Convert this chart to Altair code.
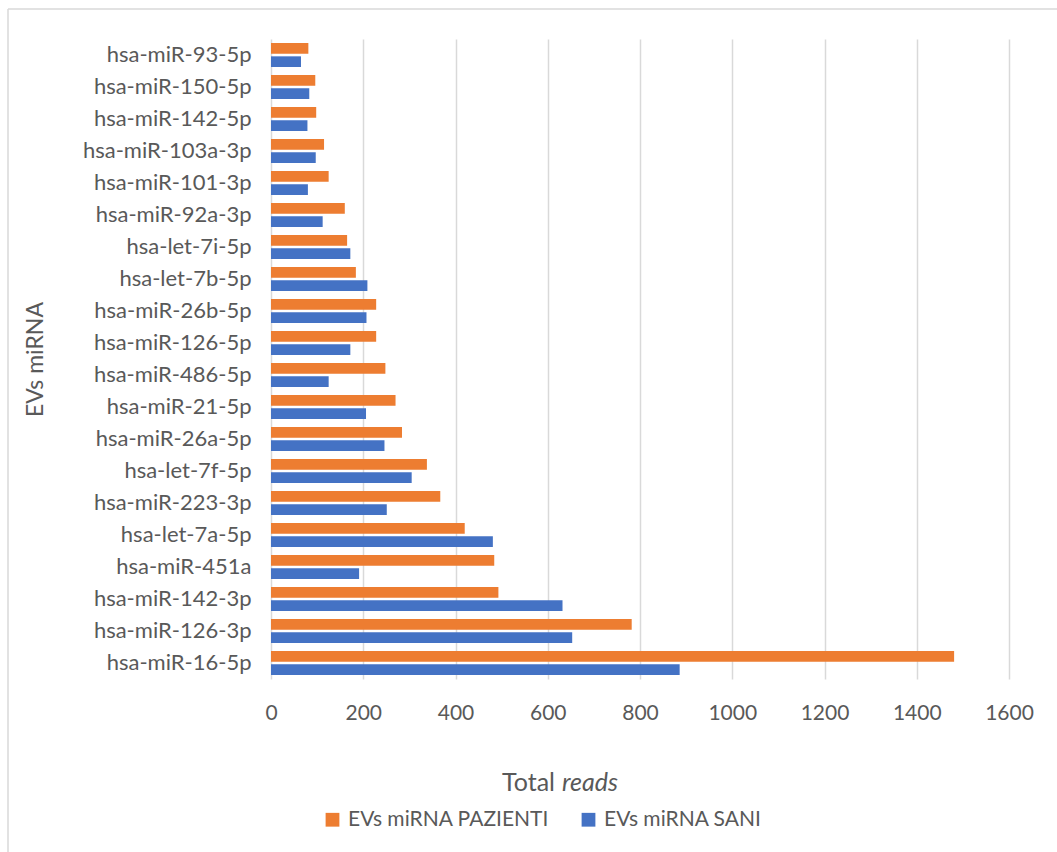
import altair as alt
import pandas as pd

# miRNA names, top to bottom as listed on the axis
mirnas = [
    "hsa-miR-93-5p", "hsa-miR-150-5p", "hsa-miR-142-5p", "hsa-miR-103a-3p",
    "hsa-miR-101-3p", "hsa-miR-92a-3p", "hsa-let-7i-5p", "hsa-let-7b-5p",
    "hsa-miR-26b-5p", "hsa-miR-126-5p", "hsa-miR-486-5p", "hsa-miR-21-5p",
    "hsa-miR-26a-5p", "hsa-let-7f-5p", "hsa-miR-223-3p", "hsa-let-7a-5p",
    "hsa-miR-451a", "hsa-miR-142-3p", "hsa-miR-126-3p", "hsa-miR-16-5p",
]
# total reads per group
pazienti = [81, 96, 98, 115, 125, 160, 165, 184, 228, 228,
            248, 270, 284, 338, 367, 420, 484, 493, 782, 1481]
sani = [65, 83, 79, 97, 80, 112, 172, 209, 207, 172,
        125, 206, 246, 305, 251, 481, 191, 632, 653, 886]

groups = ["EVs miRNA PAZIENTI", "EVs miRNA SANI"]
colors = ["#ED7D31", "#4472C4"]
x_ticks = [0, 200, 400, 600, 800, 1000, 1200, 1400, 1600]

rows = []
for name, p, s in zip(mirnas, pazienti, sani):
    rows.append({"mirna": name, "gruppo": groups[0], "reads": p})
    rows.append({"mirna": name, "gruppo": groups[1], "reads": s})
df = pd.DataFrame(rows)

FONT = "Lato"
TXT = "#595959"
W, H = 738, 640

bars = alt.Chart(df).mark_bar().encode(
    x=alt.X(
        "reads:Q",
        scale=alt.Scale(domain=[0, 1600], nice=False),
        axis=alt.Axis(
            values=x_ticks, format="d", title=None, domain=False, ticks=False,
            grid=True, gridColor="#D9D9D9", gridWidth=1.5,
            labelFlush=False, labelOverlap=False,
            labelFontSize=21, labelColor=TXT, labelFont=FONT, labelPadding=23,
        ),
    ),
    y=alt.Y(
        "mirna:N", sort=mirnas,
        scale=alt.Scale(paddingInner=0.25, paddingOuter=0.125),
        axis=alt.Axis(
            title="EVs miRNA", domain=False, ticks=False, grid=False,
            labelFontSize=22, labelColor=TXT, labelFont=FONT, labelPadding=20,
            labelLimit=300,
            titleFont=FONT, titleFontSize=23, titleFontWeight="normal",
            titleColor=TXT, titleX=-236, titleY=H / 2, titleAngle=270,
            titleAlign="center", titleBaseline="middle",
        ),
    ),
    yOffset=alt.YOffset("gruppo:N", sort=groups, scale=alt.Scale(paddingInner=0.2)),
    color=alt.Color(
        "gruppo:N",
        scale=alt.Scale(domain=groups, range=colors),
        legend=alt.Legend(
            title=None, orient="none", direction="horizontal",
            legendX=51, legendY=770, symbolType="square", symbolSize=190,
            symbolStrokeWidth=0, labelFont=FONT, labelFontSize=21,
            labelColor=TXT, labelOffset=5, columnPadding=28, labelLimit=400,
        ),
    ),
)

one = pd.DataFrame({"k": [0]})

# x-axis title: plain "Total" followed by italic "reads"
title_total = alt.Chart(one).mark_text(
    text="Total", font=FONT, fontSize=25, color=TXT, align="right", baseline="alphabetic"
).encode(x=alt.value(284), y=alt.value(752))
title_reads = alt.Chart(one).mark_text(
    text="reads", font=FONT, fontSize=25, color=TXT, fontStyle="italic",
    align="left", baseline="alphabetic"
).encode(x=alt.value(291), y=alt.value(752))

# outer chart frame (top and left edges)
frame_left = alt.Chart(one).mark_rule(color="#D9D9D9", strokeWidth=1.5).encode(
    x=alt.value(-263), y=alt.value(-30), y2=alt.value(830)
)
frame_top = alt.Chart(one).mark_rule(color="#D9D9D9", strokeWidth=1.5).encode(
    x=alt.value(-263), x2=alt.value(800), y=alt.value(-30)
)

chart = alt.layer(frame_left, frame_top, bars, title_total, title_reads).properties(
    width=W, height=H,
    padding={"left": 271, "top": 39, "right": 48, "bottom": 173},
    autosize=alt.AutoSizeParams(type="none"),
    background="white",
).configure_view(stroke=None)

chart.save("out.html", embed_options={"renderer": "svg", "actions": False})
